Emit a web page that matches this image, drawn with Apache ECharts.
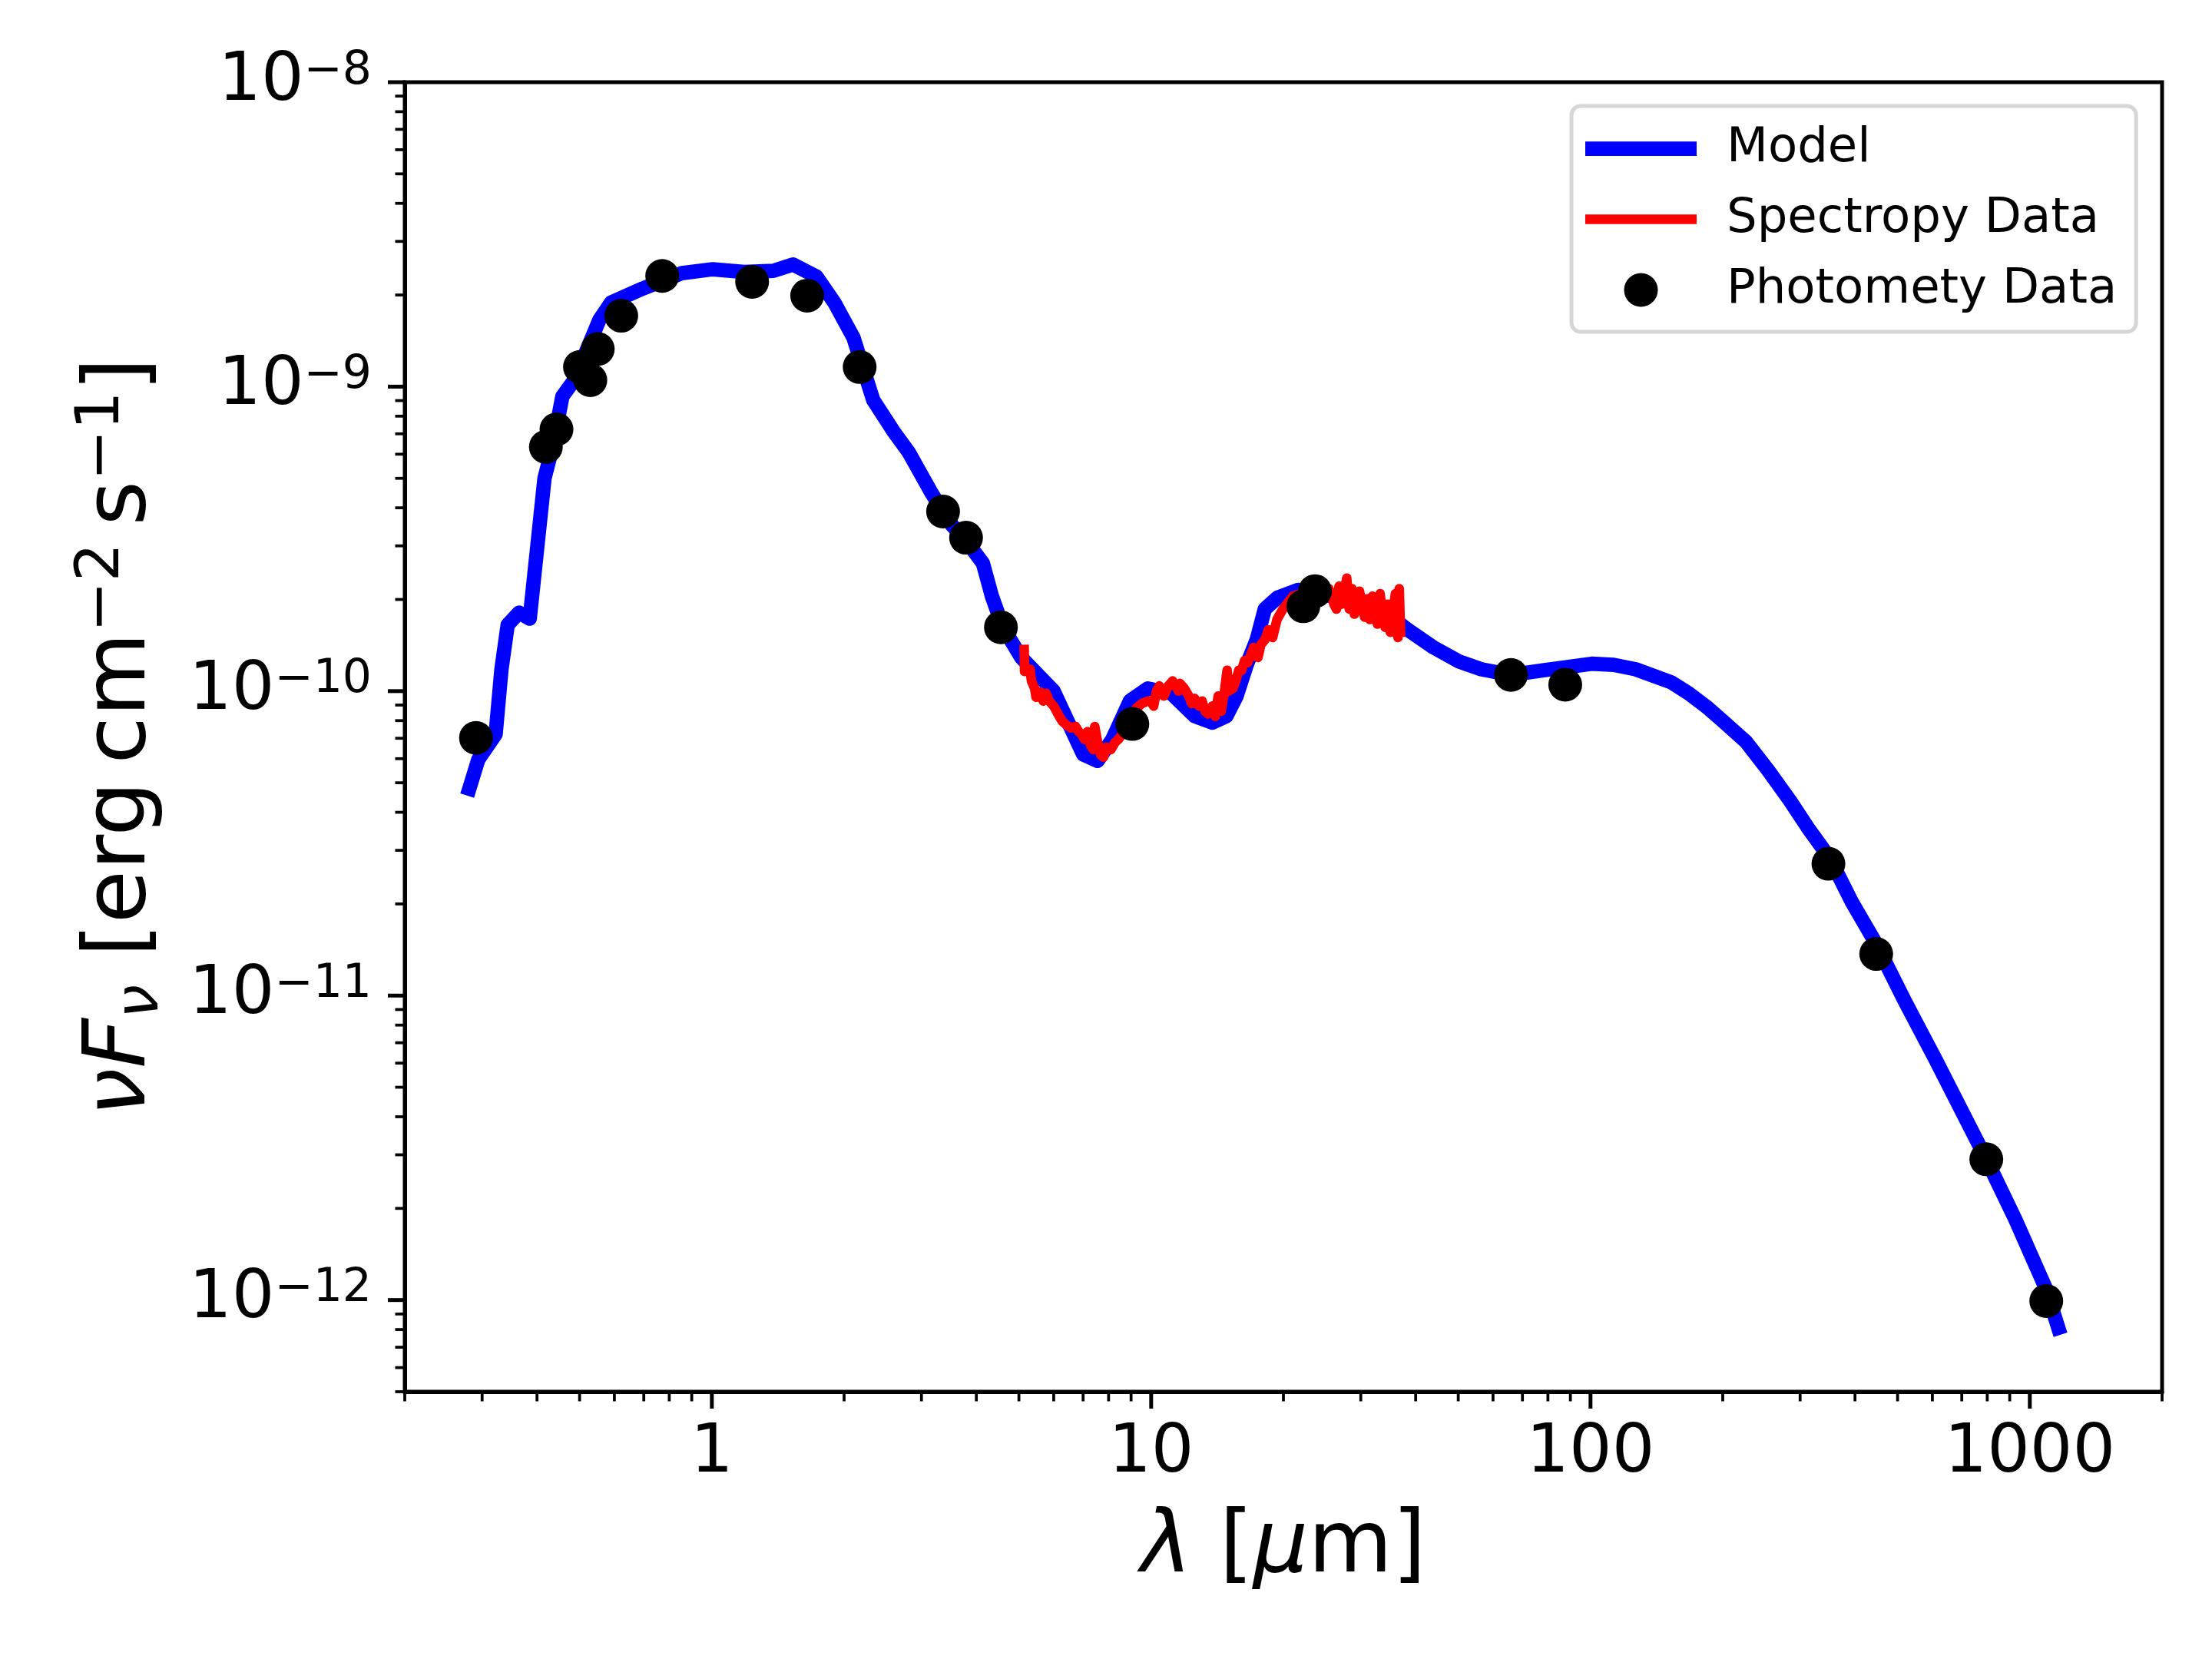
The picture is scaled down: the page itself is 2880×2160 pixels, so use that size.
<!DOCTYPE html>
<html><head><meta charset="utf-8">
<script src="https://cdn.jsdelivr.net/npm/echarts@6/dist/echarts.min.js"></script>
<style>html,body{margin:0;padding:0;background:#fff}#c{width:2880px;height:2160px}</style>
</head><body><div id="c"></div>
<script>
// ---- data ----
const modelWave = [0.2805,0.294,0.322,0.332,0.343,0.364,0.385,0.416,0.434,0.457,0.486,0.555,0.590,0.696,0.855,1.005,1.185,1.38,1.53,1.73,1.90,2.10,2.33,2.59,2.81,3.17,3.52,3.79,4.14,4.34,4.60,5.06,6.00,7.00,7.55,8.16,8.95,9.82,11.1,12.57,13.79,14.83,15.65,16.5,17.4,18.14,19.4,21.6,24.0,29.4,36.9,38.4,44.0,50.3,56.4,65.9,78.0,100.6,112.9,126.7,152.5,167.3,183.4,201.2,225.9,253.6,284.7,312.4,350.5,393.4,446.8,519.1,610.6,796.2,925.3,1088,1161];
const modelFlux = [4.78e-11,5.96e-11,7.22e-11,1.18e-10,1.65e-10,1.81e-10,1.73e-10,5.0e-10,6.34e-10,9.3e-10,1.05e-9,1.66e-9,1.89e-9,2.10e-9,2.36e-9,2.43e-9,2.38e-9,2.40e-9,2.52e-9,2.30e-9,1.89e-9,1.45e-9,9.04e-10,7.14e-10,6.07e-10,4.45e-10,3.51e-10,3.12e-10,2.63e-10,2.05e-10,1.62e-10,1.29e-10,1.00e-10,6.20e-11,5.90e-11,6.95e-11,9.29e-11,1.02e-10,9.84e-11,8.27e-11,7.88e-11,8.27e-11,9.64e-11,1.22e-10,1.48e-10,1.86e-10,2.03e-10,2.15e-10,2.11e-10,1.93e-10,1.66e-10,1.59e-10,1.39e-10,1.25e-10,1.18e-10,1.13e-10,1.17e-10,1.23e-10,1.22e-10,1.18e-10,1.07e-10,9.83e-11,8.90e-11,7.92e-11,6.82e-11,5.50e-11,4.36e-11,3.56e-11,2.83e-11,2.03e-11,1.48e-11,9.6e-12,6.15e-12,2.90e-12,1.85e-12,1.09e-12,8.1e-13];

const specWave = [5.14,5.15,5.30,5.34,5.43,5.47,5.60,5.68,5.77,5.86,6.00,6.18,6.28,6.43,6.58,6.73,6.84,6.94,7.05,7.16,7.27,7.38,7.44,7.55,7.67,7.79,7.91,8.10,8.29,8.42,8.68,8.95,9.23,9.52,9.82,9.97,10.13,10.28,10.44,10.69,10.94,11.19,11.37,11.54,11.63,11.90,12.18,12.37,12.56,12.86,13.06,13.26,13.47,13.78,13.99,14.21,14.43,14.66,14.89,15.00,15.35,15.58,15.83,16.07,16.32,16.58,16.84,17.10,17.50,17.77,18.18,18.47,18.90,19.34,19.64,19.95,20.57,21.02,21.89,22.79,23.72,24.70,25.37,26.06,26.41,26.77,27.13,27.50,27.87,28.25,28.63,29.01,29.41,29.80,30.21,30.61,31.03,31.45,31.87,32.30,32.74,33.19,33.64,34.09,34.55,35.02,35.49,35.97,36.46,36.70,36.95];
const specFlux = [1.37e-10,1.16e-10,1.18e-10,1.08e-10,1.02e-10,9.55e-11,9.93e-11,9.28e-11,9.83e-11,9.28e-11,8.93e-11,8.26e-11,7.95e-11,7.72e-11,7.57e-11,7.65e-11,7.36e-11,7.22e-11,6.94e-11,7.36e-11,6.68e-11,6.43e-11,7.65e-11,6.81e-11,6.18e-11,6.07e-11,6.55e-11,6.43e-11,6.81e-11,6.94e-11,7.36e-11,7.95e-11,8.76e-11,9.10e-11,9.28e-11,9.28e-11,8.93e-11,1.00e-10,1.04e-10,9.64e-11,1.04e-10,1.08e-10,1.04e-10,1.00e-10,1.06e-10,1.02e-10,9.64e-11,9.10e-11,9.46e-11,8.93e-11,9.28e-11,8.59e-11,8.42e-11,8.93e-11,8.26e-11,9.64e-11,8.59e-11,9.83e-11,1.17e-10,1.00e-10,1.02e-10,1.08e-10,1.17e-10,1.17e-10,1.26e-10,1.24e-10,1.31e-10,1.39e-10,1.29e-10,1.42e-10,1.48e-10,1.59e-10,1.50e-10,1.72e-10,1.79e-10,1.86e-10,1.97e-10,2.05e-10,2.09e-10,2.05e-10,2.01e-10,2.01e-10,2.17e-10,1.93e-10,1.86e-10,2.21e-10,1.93e-10,2.09e-10,2.35e-10,1.86e-10,2.17e-10,1.79e-10,2.05e-10,2.13e-10,1.90e-10,1.75e-10,2.01e-10,1.72e-10,2.05e-10,1.86e-10,1.66e-10,2.09e-10,1.79e-10,1.62e-10,1.93e-10,1.56e-10,1.79e-10,2.09e-10,1.50e-10,2.17e-10,1.56e-10];

const photWave = [0.2905,0.419,0.443,0.501,0.529,0.550,0.622,0.771,1.235,1.648,2.17,3.36,3.79,4.55,9.06,22.2,23.6,65.9,87.6,348,447,796,1090];
const photFlux = [7.02e-11,6.34e-10,7.24e-10,1.16e-9,1.05e-9,1.33e-9,1.71e-9,2.31e-9,2.21e-9,1.99e-9,1.16e-9,3.89e-10,3.19e-10,1.62e-10,7.80e-11,1.90e-10,2.13e-10,1.13e-10,1.05e-10,2.71e-11,1.37e-11,2.90e-12,9.93e-13];

const xMajorTicks = [1, 10, 100, 1000];
const xMinorTicks = [0.2,0.3,0.4,0.5,0.6,0.7,0.8,0.9,2,3,4,5,6,7,8,9,20,30,40,50,60,70,80,90,200,300,400,500,600,700,800,900,2000];
const yMajorTicks = [1e-12, 1e-11, 1e-10, 1e-9, 1e-8];
const yMinorTicks = [5e-13,6e-13,7e-13,8e-13,9e-13,2e-12,3e-12,4e-12,5e-12,6e-12,7e-12,8e-12,9e-12,2e-11,3e-11,4e-11,5e-11,6e-11,7e-11,8e-11,9e-11,2e-10,3e-10,4e-10,5e-10,6e-10,7e-10,8e-10,9e-10,2e-9,3e-9,4e-9,5e-9,6e-9,7e-9,8e-9,9e-9];

const X_MIN = 0.2, X_MAX = 2000, Y_MIN = 5e-13, Y_MAX = 1e-8;
const FONT = 'DejaVu Sans';

function zip(a, b) { return a.map((v, i) => [v, b[i]]); }
function isPow10(v) { const e = Math.log10(v); return Math.abs(e - Math.round(e)) < 1e-6; }

function tickSeries(values, axis, len, width) {
  return {
    type: 'custom', silent: true, z: 10, clip: false,
    data: values.map(v => axis === 'x' ? [v, Y_MIN] : [X_MIN, v]),
    encode: { x: 0, y: 1 },
    renderItem: function (params, api) {
      const cs = params.coordSys;
      const p = api.coord([api.value(0), api.value(1)]);
      if (axis === 'x') {
        const y0 = cs.y + cs.height;
        return { type: 'line', shape: { x1: p[0], y1: y0, x2: p[0], y2: y0 + len }, style: { stroke: '#000', lineWidth: width } };
      }
      const x0 = cs.x;
      return { type: 'line', shape: { x1: x0, y1: p[1], x2: x0 - len, y2: p[1] }, style: { stroke: '#000', lineWidth: width } };
    }
  };
}

const chart = echarts.init(document.getElementById('c'), null, { renderer: 'canvas' });
chart.setOption({
  animation: false,
  backgroundColor: '#ffffff',
  textStyle: { fontFamily: FONT },
  grid: { left: 527, right: 65, top: 107, bottom: 348, show: true, borderColor: '#000', borderWidth: 5, backgroundColor: 'transparent' },
  legend: {
    left: 2046, top: 138, orient: 'vertical',
    padding: [24, 25, 23, 18],
    itemWidth: 145, itemHeight: 44, itemGap: 29,
    backgroundColor: '#ffffff', borderColor: '#d6d6d6', borderWidth: 5, borderRadius: 12,
    selectedMode: false, symbolKeepAspect: true,
    formatter: function (name) { return '{t|' + name + '}'; },
    textStyle: { color: '#000', fontFamily: FONT, fontSize: 62.5,
      rich: { t: { fontFamily: FONT, fontSize: 62.5, lineHeight: 72, padding: [0, 0, 0, 34], color: '#000' } } },
    data: [
      { name: 'Model', icon: 'path://M0,0H145V18.75H0Z', itemStyle: { color: '#0000ff', borderWidth: 0 } },
      { name: 'Spectropy Data', icon: 'path://M0,0H145V12.5H0Z', itemStyle: { color: '#ff0000', borderWidth: 0 } },
      { name: 'Photomety Data', icon: 'circle', itemStyle: { color: '#000000', borderWidth: 0, opacity: 1 } }
    ]
  },
  xAxis: {
    type: 'log', logBase: 10, min: X_MIN, max: X_MAX,
    axisLine: { show: true, lineStyle: { color: '#000', width: 5 } },
    axisTick: { show: false }, splitLine: { show: false }, minorTick: { show: false },
    axisLabel: { color: '#000', fontFamily: FONT, fontSize: 87.5, lineHeight: 88, margin: 37,
      formatter: function (v) { return isPow10(v) ? String(Math.round(v)) : ''; } },
    name: '{i|λ}{n| [}{i|μ}{n|m]}', nameLocation: 'middle', nameGap: 140,
    nameTextStyle: { color: '#000', fontFamily: FONT, fontSize: 112.5,
      rich: { i: { fontFamily: FONT, fontStyle: 'italic', fontSize: 112.5, lineHeight: 130, color: '#000' },
              n: { fontFamily: FONT, fontSize: 112.5, lineHeight: 130, color: '#000' } } }
  },
  yAxis: {
    type: 'log', logBase: 10, min: Y_MIN, max: Y_MAX,
    axisLine: { show: true, lineStyle: { color: '#000', width: 5 } },
    axisTick: { show: false }, splitLine: { show: false }, minorTick: { show: false },
    axisLabel: { color: '#000', fontFamily: FONT, fontSize: 87.5, margin: 43,
      formatter: function (v) { return isPow10(v) ? '{b|10}{s|\u2212' + (-Math.round(Math.log10(v))) + '}' : ''; },
      rich: { b: { fontFamily: FONT, fontSize: 87.5, lineHeight: 88, color: '#000' },
              s: { fontFamily: FONT, fontSize: 60, lineHeight: 45, verticalAlign: 'top', color: '#000' } } },
    name: '{i|\u03BDF}{sub|\u03BD}{n| [erg\u2009cm}{sup|\u22122}{n|\u2009s}{sup|\u22121}{n|]}',
    nameLocation: 'middle', nameRotate: 90, nameGap: 303,
    nameTextStyle: { color: '#000', fontFamily: FONT, fontSize: 112.5,
      rich: { i: { fontFamily: FONT, fontStyle: 'italic', fontSize: 112.5, lineHeight: 130, color: '#000' },
              sub: { fontFamily: FONT, fontStyle: 'italic', fontSize: 79, lineHeight: 88, verticalAlign: 'bottom', color: '#000' },
              n: { fontFamily: FONT, fontSize: 112.5, lineHeight: 130, color: '#000' },
              sup: { fontFamily: FONT, fontSize: 79, lineHeight: 24, verticalAlign: 'top', color: '#000' } } }
  },
  series: [
    { name: 'Model', type: 'line', data: zip(modelWave, modelFlux), showSymbol: false, symbol: 'none', z: 2,
      color: '#0000ff', lineStyle: { color: '#0000ff', width: 18.75, cap: 'square', join: 'round' } },
    { name: 'Spectropy Data', type: 'line', data: zip(specWave, specFlux), showSymbol: false, symbol: 'none', z: 3,
      color: '#ff0000', lineStyle: { color: '#ff0000', width: 12.5, cap: 'square', join: 'round' } },
    { name: 'Photomety Data', type: 'scatter', data: zip(photWave, photFlux), symbol: 'circle', symbolSize: 44, z: 4,
      color: '#000000', itemStyle: { color: '#000000', opacity: 1 } },
    tickSeries(xMajorTicks, 'x', 22, 5),
    tickSeries(xMinorTicks, 'x', 12.5, 3.75),
    tickSeries(yMajorTicks, 'y', 22, 5),
    tickSeries(yMinorTicks, 'y', 12.5, 3.75)
  ]
});
</script>
</body></html>
